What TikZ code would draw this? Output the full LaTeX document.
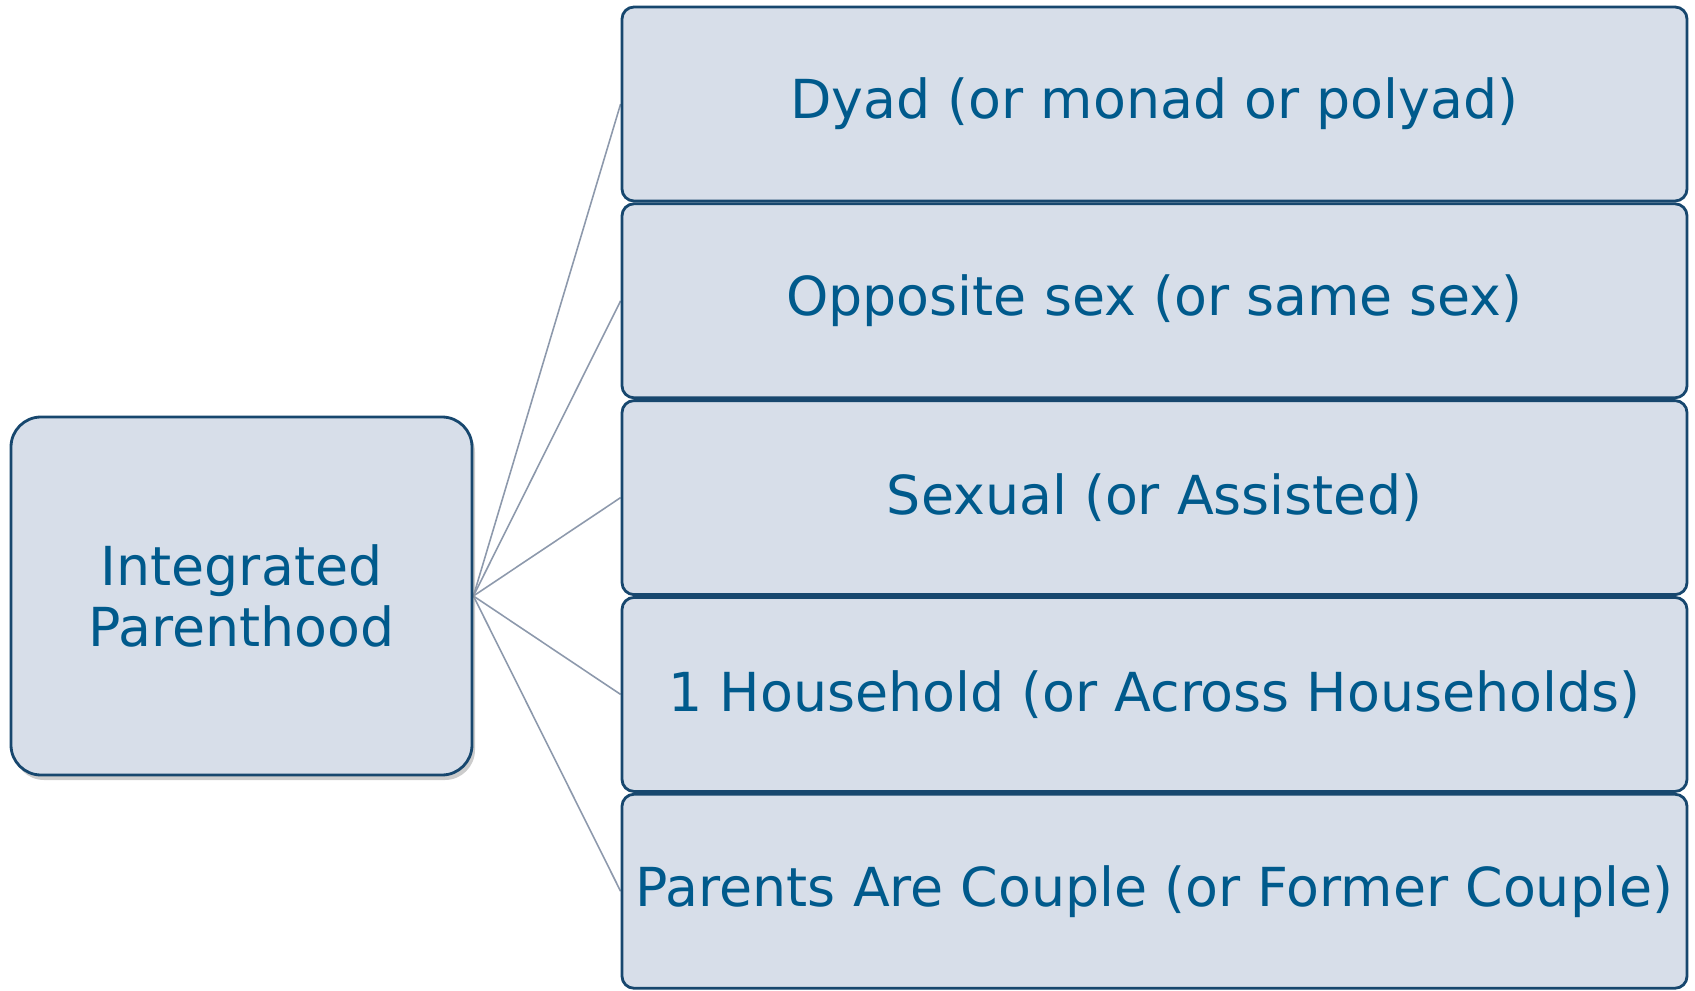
\documentclass[tikz,border=0pt]{standalone}
\usepackage{fontspec}
\setmainfont{DejaVu Sans}
\usepackage{tikz}
\usetikzlibrary{positioning}
\usetikzlibrary{backgrounds}
\usetikzlibrary{shadows}
\definecolor{boxfill}{HTML}{D7DEE9}
\definecolor{boxline}{HTML}{17476E}
\definecolor{boxtext}{HTML}{005A8C}
\definecolor{linkgray}{HTML}{8D99AC}
\tikzset{
	rootbox/.style = {fill = boxfill, draw = boxline, line width = 0.8pt, rectangle, rounded corners = 0.3cm, minimum width = 4.61cm, minimum height = 3.58cm, text = boxtext, align = center, font = \fontsize{15.3}{17.5}\selectfont, drop shadow = {shadow xshift = 0.03cm, shadow yshift = -0.05cm, fill = black!40, opacity = 0.5}},
	leafbox/.style = {fill = boxfill, draw = boxline, line width = 0.8pt, rectangle, rounded corners = 0.12cm, inner sep = 0.05cm, minimum width = 10.65cm, minimum height = 1.94cm, text = boxtext, font = \fontsize{15.3}{18}\selectfont},
	link/.style = {linkgray, line width = 0.45pt}
}
\begin{document}
\begin{tikzpicture}
		\useasboundingbox (0,0) rectangle (16.95,9.9);
		\node[rootbox] at (2.415,3.94) (root) {Integrated\\Parenthood};
		\node[leafbox] at (11.545,8.86) (dyad) {Dyad (or monad or polyad)};
		\node[below = 0cm of dyad, leafbox] (sex) {Opposite sex (or same sex)};
		\node[below = 0cm of sex, leafbox] (sexual) {Sexual (or Assisted)};
		\node[below = 0cm of sexual, leafbox] (house) {1 Household (or Across Households)};
		\node[below = 0cm of house, leafbox] (couple) {Parents Are Couple (or Former Couple)};
		\begin{scope}[on background layer]
			\draw[link] (root.east) to (dyad.west);
			\draw[link] (root.east) to (sex.west);
			\draw[link] (root.east) to (sexual.west);
			\draw[link] (root.east) to (house.west);
			\draw[link] (root.east) to (couple.west);
		\end{scope}
	\end{tikzpicture}
\end{document}
